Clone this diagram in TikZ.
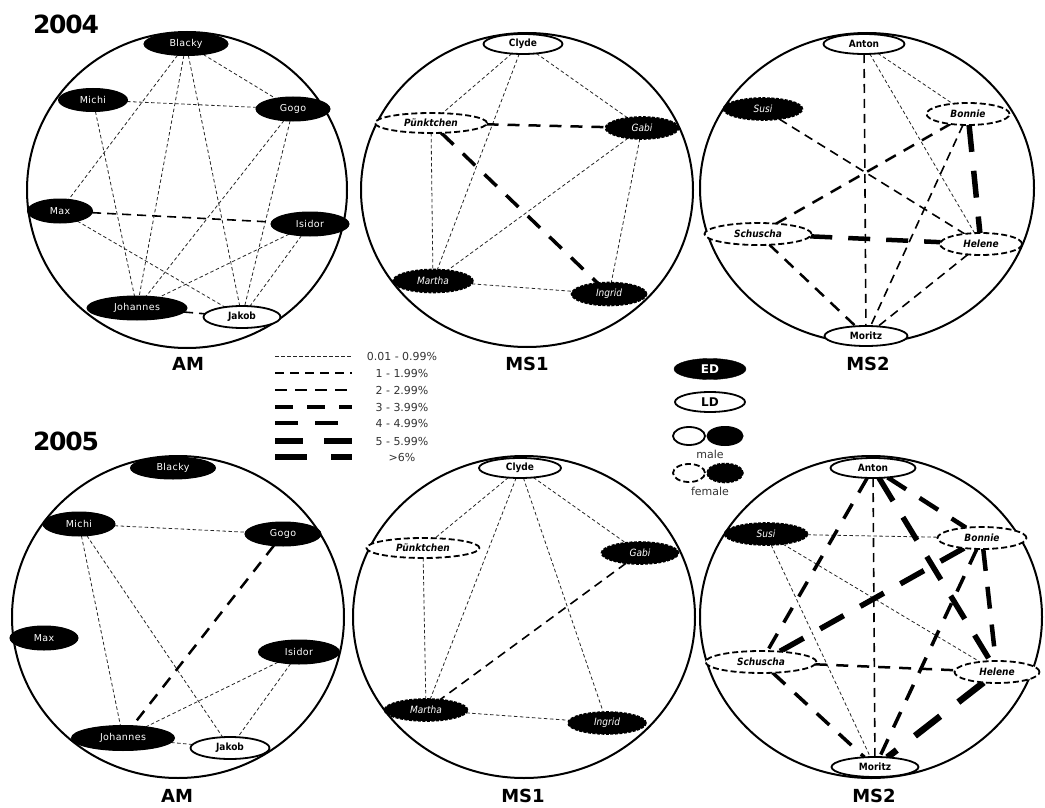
\documentclass[tikz,border=0pt]{standalone}
\usepackage{fontspec}
\setmainfont{DejaVu Sans}
\newfontfamily\spacedfont[LetterSpace=4]{DejaVu Sans}
\newfontfamily\condfont{DejaVu Sans Condensed}
\newfontfamily\yearfont[LetterSpace=-5]{DejaVu Sans}
\usetikzlibrary{shapes.geometric,backgrounds}
\begin{document}
\begin{tikzpicture}[x=1pt,y=-1pt,
 every node/.style={inner sep=0pt,outer sep=0pt},
 sz/.style 2 args={minimum width=#1pt,minimum height=#2pt},
 edm/.style={ellipse,fill=black,draw=black,line width=1pt,text=white,font=\spacedfont\fontsize{9.5}{10}\selectfont},
 ldm/.style={ellipse,fill=white,draw=black,line width=1.8pt,text=black,font=\condfont\bfseries\fontsize{10}{11}\selectfont},
 edf/.style={ellipse,fill=black,draw=black,line width=1.6pt,dash pattern=on 3pt off 1.5pt,text=white,font=\condfont\itshape\fontsize{10}{11}\selectfont},
 ldf/.style={ellipse,fill=white,draw=black,line width=1.8pt,dash pattern=on 6pt off 3pt,text=black,font=\condfont\bfseries\itshape\fontsize{10}{11}\selectfont},
 ring/.style={draw=black,line width=2pt},
 e0/.style={draw=black!85,line width=0.8pt,dash pattern=on 3.5pt off 2.5pt},
 e1/.style={draw=black,line width=1.6pt,dash pattern=on 9pt off 6pt},
 e2/.style={draw=black,line width=2.5pt,dash pattern=on 12pt off 9pt},
 e3/.style={draw=black,line width=3.5pt,dash pattern=on 17pt off 13pt},
 e4/.style={draw=black,line width=4.5pt,dash pattern=on 22pt off 16pt},
 e5/.style={draw=black,line width=5.5pt,dash pattern=on 27pt off 19pt},
 e6/.style={draw=black,line width=6.5pt,dash pattern=on 32pt off 23pt},
 year/.style={font=\yearfont\bfseries\fontsize{25}{25}\selectfont},
 panel/.style={font=\bfseries\fontsize{18}{18}\selectfont},
 legtext/.style={font=\fontsize{11}{12}\selectfont,text=black!80}
]
\useasboundingbox (0,0) rectangle (1045,808);

% titles
\node[year] (y4) at (66,24) {2004};
\node[year] (y5) at (66,441) {2005};
\node[panel] (l1) at (188,364) {AM};
\node[panel] (l2) at (527,364) {MS1};
\node[panel] (l3) at (868,364) {MS2};
\node[panel] (l4) at (177,796) {AM};
\node[panel] (l5) at (523,796) {MS1};
\node[panel] (l6) at (874,796) {MS2};

% ---------- 2004 AM ----------
\node[edm,sz={84}{23}] (a4bl) at (186,44) {Blacky};
\node[edm,sz={69}{23}] (a4mi) at (93,100) {Michi};
\node[edm,sz={74}{24}] (a4go) at (293,109) {Gogo};
\node[edm,sz={65}{24}] (a4ma) at (60,211) {Max};
\node[edm,sz={78}{24}] (a4is) at (310,224) {Isidor};
\node[edm,sz={100}{24}] (a4jo) at (137,308) {Johannes};
\node[ldm,sz={77}{22}] (a4ja) at (242,317) {Jakob};

% ---------- 2004 MS1 ----------
\node[ldm,sz={79}{20}] (b4cl) at (523,44) {Clyde};
\node[ldf,sz={112}{20}] (b4pu) at (431,123) {Pünktchen};
\node[edf,sz={73}{22}] (b4ga) at (642,128) {Gabi};
\node[edf,sz={80}{23}] (b4ma) at (433,281) {Martha};
\node[edf,sz={75}{23}] (b4in) at (609,294) {Ingrid};

% ---------- 2004 MS2 ----------
\node[ldm,sz={81}{20}] (c4an) at (864,44) {Anton};
\node[edf,sz={79}{22}] (c4su) at (763,109) {Susi};
\node[ldf,sz={83}{22}] (c4bo) at (968,114) {Bonnie};
\node[ldf,sz={107}{22}] (c4sc) at (758,234) {Schuscha};
\node[ldf,sz={82}{22}] (c4he) at (981,244) {Helene};
\node[ldm,sz={83}{20}] (c4mo) at (866,336) {Moritz};

% ---------- 2005 AM ----------
\node[edm,sz={85}{22}] (a5bl) at (173,468) {Blacky};
\node[edm,sz={72}{24}] (a5mi) at (79,524) {Michi};
\node[edm,sz={76}{24}] (a5go) at (283,534) {Gogo};
\node[edm,sz={68}{24}] (a5ma) at (44,638) {Max};
\node[edm,sz={81}{24}] (a5is) at (299,652) {Isidor};
\node[edm,sz={103}{25}] (a5jo) at (123,738) {Johannes};
\node[ldm,sz={79}{22}] (a5ja) at (230,748) {Jakob};

% ---------- 2005 MS1 ----------
\node[ldm,sz={82}{20}] (b5cl) at (520,468) {Clyde};
\node[ldf,sz={113}{20}] (b5pu) at (423,548) {Pünktchen};
\node[edf,sz={77}{22}] (b5ga) at (640,553) {Gabi};
\node[edf,sz={83}{22}] (b5ma) at (426,710) {Martha};
\node[edf,sz={78}{22}] (b5in) at (607,723) {Ingrid};

% ---------- 2005 MS2 ----------
\node[ldm,sz={85}{20}] (c5an) at (873,468) {Anton};
\node[edf,sz={83}{22}] (c5su) at (766,534) {Susi};
\node[ldf,sz={89}{22}] (c5bo) at (982,538) {Bonnie};
\node[ldf,sz={111}{22}] (c5sc) at (761,662) {Schuscha};
\node[ldf,sz={85}{22}] (c5he) at (997,672) {Helene};
\node[ldm,sz={87}{20}] (c5mo) at (875,767) {Moritz};

% ---------- legend: line widths ----------
\coordinate (g0a) at (275,356); \coordinate (g0b) at (352,356);
\coordinate (g1a) at (275,373); \coordinate (g1b) at (352,373);
\coordinate (g2a) at (275,390); \coordinate (g2b) at (352,390);
\coordinate (g3a) at (275,407); \coordinate (g3b) at (352,407);
\coordinate (g4a) at (275,423); \coordinate (g4b) at (352,423);
\coordinate (g5a) at (275,441); \coordinate (g5b) at (352,441);
\coordinate (g6a) at (275,457); \coordinate (g6b) at (352,457);
\draw[e0] (g0a) -- (g0b);
\draw[e1] (g1a) -- (g1b);
\draw[e2,dash pattern=on 12pt off 8pt] (g2a) -- (g2b);
\draw[e3,dash pattern=on 18pt off 14pt] (g3a) -- (g3b);
\draw[e4,dash pattern=on 23pt off 17pt] (g4a) -- (g4b);
\draw[e5,dash pattern=on 28pt off 21pt] (g5a) -- (g5b);
\draw[e6,dash pattern=on 32pt off 24pt] (g6a) -- (g6b);
\node[legtext] (t0) at (402,356) {0.01 - 0.99\%};
\node[legtext] (t1) at (402,373) {1 - 1.99\%};
\node[legtext] (t2) at (402,390) {2 - 2.99\%};
\node[legtext] (t3) at (402,407) {3 - 3.99\%};
\node[legtext] (t4) at (402,423) {4 - 4.99\%};
\node[legtext] (t5) at (402,441) {5 - 5.99\%};
\node[legtext] (t6) at (402,457) {>6\%};

% ---------- legend: node types ----------
\node[ellipse,fill=black,draw=black,sz={72}{21},text=white,font=\bfseries\fontsize{12}{12}\selectfont] (ked) at (710,369) {ED};
\node[ellipse,fill=white,draw=black,line width=1.8pt,sz={70}{20},font=\bfseries\fontsize{12}{12}\selectfont] (kld) at (710,402) {LD};
\node[ldm,sz={32}{18}] (km1) at (689,436) {};
\node[edm,sz={36}{19}] (km2) at (725,436) {};
\node[legtext] (kmt) at (710,454) {male};
\node[ldf,sz={32}{18}] (kf1) at (689,473) {};
\node[edf,sz={36}{19}] (kf2) at (725,473) {};
\node[legtext] (kft) at (710,491) {female};

\begin{pgfonlayer}{background}
% rings
\draw[ring] (187,190) ellipse [x radius=160pt, y radius=158pt];
\draw[ring] (527,190) ellipse [x radius=166pt, y radius=157pt];
\draw[ring] (867,188) ellipse [x radius=167pt, y radius=155pt];
\draw[ring] (178,617) ellipse [x radius=166pt, y radius=161pt];
\draw[ring] (524,617) ellipse [x radius=171pt, y radius=161pt];
\draw[ring] (871,617) ellipse [x radius=171pt, y radius=161pt];

% 2004 AM edges
\draw[e0] (a4bl) -- (a4go);
\draw[e0] (a4bl) -- (a4ma);
\draw[e0] (a4bl) -- (a4jo);
\draw[e0] (a4bl) -- (a4ja);
\draw[e0] (a4mi) -- (a4go);
\draw[e0] (a4mi) -- (a4jo);
\draw[e0] (a4go) -- (a4jo);
\draw[e0] (a4go) -- (a4ja);
\draw[e0] (a4ma) -- (a4ja);
\draw[e0] (a4is) -- (a4jo);
\draw[e0] (a4is) -- (a4ja);
\draw[e1] (a4ma) -- (a4is);
\draw[e1] (a4jo) -- (a4ja);

% 2004 MS1 edges
\draw[e0] (b4cl) -- (b4pu);
\draw[e0] (b4cl) -- (b4ma);
\draw[e0] (b4cl) -- (b4ga);
\draw[e0] (b4pu) -- (b4ma);
\draw[e0] (b4ga) -- (b4ma);
\draw[e0] (b4ga) -- (b4in);
\draw[e0] (b4ma) -- (b4in);
\draw[e2] (b4pu) -- (b4ga);
\draw[e3] (b4pu) -- (b4in);

% 2004 MS2 edges
\draw[e0] (c4an) -- (c4bo);
\draw[e0] (c4an) -- (c4he);
\draw[e1] (c4an) -- (c4mo);
\draw[e1] (c4su) -- (c4he);
\draw[e1] (c4bo) -- (c4mo);
\draw[e1] (c4he) -- (c4mo);
\draw[e2] (c4bo) -- (c4sc);
\draw[e2] (c4sc) -- (c4mo);
\draw[e4] (c4sc) -- (c4he);
\draw[e5] (c4bo) -- (c4he);

% 2005 AM edges
\draw[e0] (a5mi) -- (a5go);
\draw[e0] (a5mi) -- (a5jo);
\draw[e0] (a5mi) -- (a5ja);
\draw[e0] (a5is) -- (a5jo);
\draw[e0] (a5is) -- (a5ja);
\draw[e0] (a5jo) -- (a5ja);
\draw[e2] (a5go) -- (a5jo);

% 2005 MS1 edges
\draw[e0] (b5cl) -- (b5pu);
\draw[e0] (b5cl) -- (b5ma);
\draw[e0] (b5cl) -- (b5in);
\draw[e0] (b5cl) -- (b5ga);
\draw[e0] (b5pu) -- (b5ma);
\draw[e0] (b5ma) -- (b5in);
\draw[e1] (b5ga) -- (b5ma);

% 2005 MS2 edges
\draw[e0] (c5su) -- (c5bo);
\draw[e0] (c5su) -- (c5he);
\draw[e0] (c5su) -- (c5mo);
\draw[e1] (c5an) -- (c5mo);
\draw[e2] (c5sc) -- (c5he);
\draw[e3] (c5an) -- (c5sc);
\draw[e3] (c5sc) -- (c5mo);
\draw[e3] (c5bo) -- (c5mo);
\draw[e4] (c5an) -- (c5bo);
\draw[e4] (c5bo) -- (c5he);
\draw[e5] (c5an) -- (c5he);
\draw[e5] (c5bo) -- (c5sc);
\draw[e6] (c5he) -- (c5mo);
\end{pgfonlayer}
\end{tikzpicture}
\end{document}
